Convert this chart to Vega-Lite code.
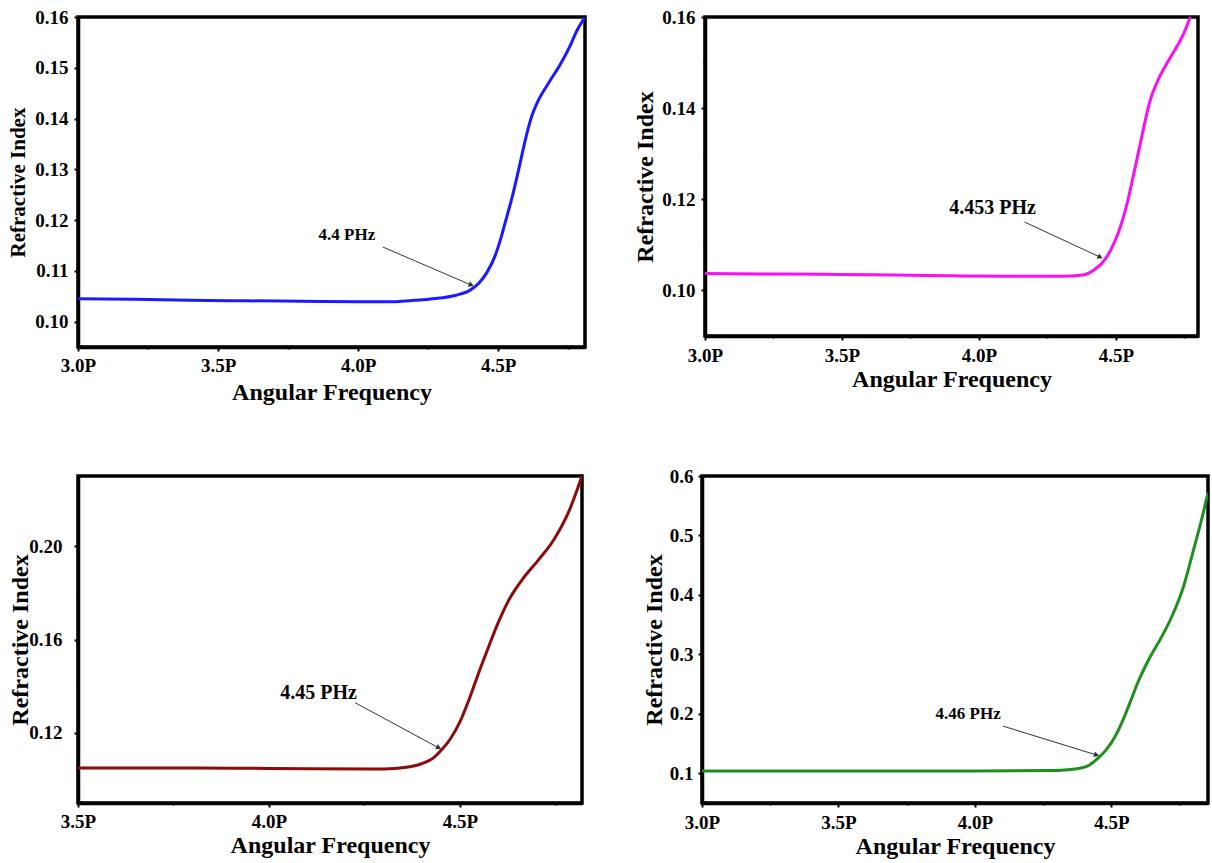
{
  "$schema": "https://vega.github.io/schema/vega-lite/v6.json",
  "background": "white",
  "padding": {"left": 5, "top": 6, "right": 0, "bottom": 0},
  "config": {
    "view": {"stroke": "black", "strokeWidth": 3.5},
    "font": "Liberation Serif",
    "axis": {
      "labelFont": "Liberation Serif", "labelFontWeight": "bold", "labelFontSize": 19, "labelColor": "black",
      "titleFont": "Liberation Serif", "titleFontWeight": "bold", "titleFontSize": 24, "titleColor": "black",
      "domainColor": "black", "domainWidth": 3.5, "tickColor": "black", "tickWidth": 2,
      "grid": false, "labelOverlap": false, "labelFlush": false
    }
  },
  "datasets": {
    "p1": [
      {"x": 3.00, "y": 0.1045}, {"x": 3.20, "y": 0.1044}, {"x": 3.40, "y": 0.1042}, {"x": 3.60, "y": 0.1041},
      {"x": 3.80, "y": 0.1040}, {"x": 4.00, "y": 0.1039}, {"x": 4.10, "y": 0.1039}, {"x": 4.20, "y": 0.1042},
      {"x": 4.30, "y": 0.1047}, {"x": 4.35, "y": 0.1052}, {"x": 4.40, "y": 0.1062}, {"x": 4.43, "y": 0.1075},
      {"x": 4.46, "y": 0.1097}, {"x": 4.49, "y": 0.1131}, {"x": 4.51, "y": 0.1165}, {"x": 4.53, "y": 0.1205},
      {"x": 4.55, "y": 0.1245}, {"x": 4.575, "y": 0.1304}, {"x": 4.60, "y": 0.1365}, {"x": 4.62, "y": 0.1405},
      {"x": 4.64, "y": 0.1432}, {"x": 4.68, "y": 0.1470}, {"x": 4.72, "y": 0.1505}, {"x": 4.755, "y": 0.1541},
      {"x": 4.78, "y": 0.1572}, {"x": 4.81, "y": 0.1600}
    ],
    "a1": [{"x": 4.088, "y": 0.1147, "x2": 4.404, "y2": 0.1072, "tx": 3.96, "ty": 0.117, "label": "4.4 PHz"}],
    "p2": [
      {"x": 3.00, "y": 0.1037}, {"x": 3.30, "y": 0.1036}, {"x": 3.50, "y": 0.1035}, {"x": 3.70, "y": 0.1034},
      {"x": 3.90, "y": 0.1032}, {"x": 4.10, "y": 0.1031}, {"x": 4.30, "y": 0.1031}, {"x": 4.38, "y": 0.1034},
      {"x": 4.42, "y": 0.1045}, {"x": 4.45, "y": 0.1060}, {"x": 4.48, "y": 0.1087}, {"x": 4.51, "y": 0.1128},
      {"x": 4.54, "y": 0.1188}, {"x": 4.567, "y": 0.1260}, {"x": 4.596, "y": 0.1341}, {"x": 4.624, "y": 0.1414},
      {"x": 4.66, "y": 0.1469}, {"x": 4.70, "y": 0.1512}, {"x": 4.745, "y": 0.1560}, {"x": 4.772, "y": 0.1600}
    ],
    "a2": [{"x": 4.167, "y": 0.1150, "x2": 4.443, "y2": 0.1073, "tx": 4.05, "ty": 0.118, "label": "4.453 PHz"}],
    "p3": [
      {"x": 3.50, "y": 0.1050}, {"x": 3.70, "y": 0.1050}, {"x": 3.90, "y": 0.1049}, {"x": 4.10, "y": 0.1047},
      {"x": 4.30, "y": 0.1046}, {"x": 4.36, "y": 0.1053}, {"x": 4.40, "y": 0.1068}, {"x": 4.43, "y": 0.1092},
      {"x": 4.45, "y": 0.1124}, {"x": 4.475, "y": 0.1174}, {"x": 4.50, "y": 0.1246}, {"x": 4.525, "y": 0.1346},
      {"x": 4.55, "y": 0.1460}, {"x": 4.575, "y": 0.1567}, {"x": 4.60, "y": 0.1670}, {"x": 4.63, "y": 0.1774},
      {"x": 4.665, "y": 0.1860}, {"x": 4.705, "y": 0.1939}, {"x": 4.745, "y": 0.2024}, {"x": 4.785, "y": 0.2146},
      {"x": 4.82, "y": 0.2300}
    ],
    "a3": [{"x": 4.226, "y": 0.1329, "x2": 4.445, "y2": 0.1136, "tx": 4.13, "ty": 0.137, "label": "4.45 PHz"}],
    "p4": [
      {"x": 3.00, "y": 0.104}, {"x": 3.50, "y": 0.104}, {"x": 4.00, "y": 0.104}, {"x": 4.27, "y": 0.1045},
      {"x": 4.34, "y": 0.106}, {"x": 4.38, "y": 0.108}, {"x": 4.42, "y": 0.114}, {"x": 4.45, "y": 0.125},
      {"x": 4.48, "y": 0.139}, {"x": 4.51, "y": 0.159}, {"x": 4.54, "y": 0.187}, {"x": 4.57, "y": 0.221},
      {"x": 4.60, "y": 0.256}, {"x": 4.64, "y": 0.294}, {"x": 4.68, "y": 0.326}, {"x": 4.72, "y": 0.362},
      {"x": 4.765, "y": 0.415}, {"x": 4.80, "y": 0.474}, {"x": 4.835, "y": 0.535}, {"x": 4.854, "y": 0.572}
    ],
    "a4": [{"x": 4.103, "y": 0.1793, "x2": 4.446, "y2": 0.1307, "tx": 3.975, "ty": 0.1994, "label": "4.46 PHz"}]
  },
  "spacing": 59,
  "vconcat": [
    {
      "hconcat": [
        {
          "width": 507, "height": 330,
          "layer": [
            {
              "data": {"name": "p1"},
              "mark": {"type": "line", "color": "#1a1aff", "strokeWidth": 3, "clip": true, "interpolate": "monotone"},
              "encoding": {
                "x": {"field": "x", "type": "quantitative", "scale": {"domain": [3.0, 4.81], "nice": false, "zero": false},
                  "axis": {"title": "Angular Frequency", "titleFontSize": 24, "values": [3.0, 3.25, 3.5, 3.75, 4.0, 4.25, 4.5, 4.75],
                    "labelExpr": "round(datum.value*4)%2==0 ? format(datum.value,'.1f')+'P' : ''", "labelOverlap": false,
                    "tickSize": {"condition": {"test": "round(datum.value*4)%2==1", "value": 2}, "value": 4},
                    "labelPadding": 5, "minExtent": 27, "maxExtent": 27, "titlePadding": 6}},
                "y": {"field": "y", "type": "quantitative", "scale": {"domain": [0.095, 0.16], "nice": false, "zero": false},
                  "axis": {"title": "Refractive Index", "titleFontSize": 21,
                    "values": [0.1, 0.105, 0.11, 0.115, 0.12, 0.125, 0.13, 0.135, 0.14, 0.145, 0.15, 0.155, 0.16],
                    "labelExpr": "round(datum.value*200)%2==0 ? format(datum.value,'.2f') : ''", "labelOverlap": false,
                    "tickSize": {"condition": {"test": "round(datum.value*200)%2==1", "value": 2}, "value": 4},
                    "labelPadding": 6, "minExtent": 47, "maxExtent": 47, "titlePadding": 3}}
              }
            },
            {
              "data": {"name": "a1"},
              "mark": {"type": "rule", "color": "#333333", "strokeWidth": 1},
              "encoding": {"x": {"field": "x", "type": "quantitative"}, "y": {"field": "y", "type": "quantitative"},
                "x2": {"field": "x2"}, "y2": {"field": "y2"}}
            },
            {
              "data": {"name": "a1"},
              "mark": {"type": "point", "shape": "triangle-right", "filled": true, "color": "#333333", "opacity": 1, "size": 35, "angle": 23.5},
              "encoding": {"x": {"field": "x2", "type": "quantitative"}, "y": {"field": "y2", "type": "quantitative"}}
            },
            {
              "data": {"name": "a1"},
              "mark": {"type": "text", "font": "Liberation Serif", "fontWeight": "bold", "fontSize": 17, "color": "black"},
              "encoding": {"x": {"field": "tx", "type": "quantitative"}, "y": {"field": "ty", "type": "quantitative"},
                "text": {"field": "label"}}
            }
          ]
        },
        {
          "width": 493, "height": 319,
          "layer": [
            {
              "data": {"name": "p2"},
              "mark": {"type": "line", "color": "#f70ff7", "strokeWidth": 3, "clip": true, "interpolate": "monotone"},
              "encoding": {
                "x": {"field": "x", "type": "quantitative", "scale": {"domain": [3.0, 4.8], "nice": false, "zero": false},
                  "axis": {"title": "Angular Frequency", "titleFontSize": 24, "values": [3.0, 3.25, 3.5, 3.75, 4.0, 4.25, 4.5, 4.75],
                    "labelExpr": "round(datum.value*4)%2==0 ? format(datum.value,'.1f')+'P' : ''", "labelOverlap": false,
                    "tickSize": {"condition": {"test": "round(datum.value*4)%2==1", "value": 2}, "value": 4},
                    "labelPadding": 6, "minExtent": 27, "maxExtent": 27, "titlePadding": 4}},
                "y": {"field": "y", "type": "quantitative", "scale": {"domain": [0.09, 0.16], "nice": false, "zero": false},
                  "axis": {"title": "Refractive Index", "titleFontSize": 24,
                    "values": [0.1, 0.11, 0.12, 0.13, 0.14, 0.15, 0.16],
                    "labelExpr": "round(datum.value*100)%2==0 ? format(datum.value,'.2f') : ''", "labelOverlap": false,
                    "tickSize": {"condition": {"test": "round(datum.value*100)%2==1", "value": 2}, "value": 4},
                    "labelPadding": 6, "minExtent": 44, "maxExtent": 44, "titlePadding": 4}}
              }
            },
            {
              "data": {"name": "a2"},
              "mark": {"type": "rule", "color": "#333333", "strokeWidth": 1},
              "encoding": {"x": {"field": "x", "type": "quantitative"}, "y": {"field": "y", "type": "quantitative"},
                "x2": {"field": "x2"}, "y2": {"field": "y2"}}
            },
            {
              "data": {"name": "a2"},
              "mark": {"type": "point", "shape": "triangle-right", "filled": true, "color": "#333333", "opacity": 1, "size": 35, "angle": 25},
              "encoding": {"x": {"field": "x2", "type": "quantitative"}, "y": {"field": "y2", "type": "quantitative"}}
            },
            {
              "data": {"name": "a2"},
              "mark": {"type": "text", "font": "Liberation Serif", "fontWeight": "bold", "fontSize": 20, "color": "black"},
              "encoding": {"x": {"field": "tx", "type": "quantitative"}, "y": {"field": "ty", "type": "quantitative"},
                "text": {"field": "label"}}
            }
          ]
        }
      ],
      "spacing": 120,
      "bounds": "flush"
    },
    {
      "hconcat": [
        {
          "width": 504, "height": 327,
          "layer": [
            {
              "data": {"name": "p3"},
              "mark": {"type": "line", "color": "#8b0a0a", "strokeWidth": 3, "clip": true, "interpolate": "monotone"},
              "encoding": {
                "x": {"field": "x", "type": "quantitative", "scale": {"domain": [3.5, 4.82], "nice": false, "zero": false},
                  "axis": {"title": "Angular Frequency", "titleFontSize": 24, "values": [3.5, 3.75, 4.0, 4.25, 4.5, 4.75],
                    "labelExpr": "round(datum.value*4)%2==0 ? format(datum.value,'.1f')+'P' : ''", "labelOverlap": false,
                    "tickSize": {"condition": {"test": "round(datum.value*4)%2==1", "value": 2}, "value": 4},
                    "labelPadding": 5, "minExtent": 27, "maxExtent": 27, "titlePadding": 3}},
                "y": {"field": "y", "type": "quantitative", "scale": {"domain": [0.09, 0.23], "nice": false, "zero": false},
                  "axis": {"title": "Refractive Index", "titleFontSize": 24,
                    "values": [0.12, 0.14, 0.16, 0.18, 0.2],
                    "labelExpr": "round(datum.value*100)%4==0 ? format(datum.value,'.2f') : ''", "labelOverlap": false,
                    "tickSize": {"condition": {"test": "round(datum.value*100)%4!=0", "value": 2}, "value": 4},
                    "labelPadding": 12, "minExtent": 42, "maxExtent": 42, "titlePadding": 4}}
              }
            },
            {
              "data": {"name": "a3"},
              "mark": {"type": "rule", "color": "#333333", "strokeWidth": 1},
              "encoding": {"x": {"field": "x", "type": "quantitative"}, "y": {"field": "y", "type": "quantitative"},
                "x2": {"field": "x2"}, "y2": {"field": "y2"}}
            },
            {
              "data": {"name": "a3"},
              "mark": {"type": "point", "shape": "triangle-right", "filled": true, "color": "#333333", "opacity": 1, "size": 35, "angle": 28},
              "encoding": {"x": {"field": "x2", "type": "quantitative"}, "y": {"field": "y2", "type": "quantitative"}}
            },
            {
              "data": {"name": "a3"},
              "mark": {"type": "text", "font": "Liberation Serif", "fontWeight": "bold", "fontSize": 20, "color": "black"},
              "encoding": {"x": {"field": "tx", "type": "quantitative"}, "y": {"field": "ty", "type": "quantitative"},
                "text": {"field": "label"}}
            }
          ]
        },
        {
          "width": 506, "height": 327,
          "layer": [
            {
              "data": {"name": "p4"},
              "mark": {"type": "line", "color": "#1f8f1f", "strokeWidth": 3, "clip": true, "interpolate": "monotone"},
              "encoding": {
                "x": {"field": "x", "type": "quantitative", "scale": {"domain": [3.0, 4.854], "nice": false, "zero": false},
                  "axis": {"title": "Angular Frequency", "titleFontSize": 24, "values": [3.0, 3.25, 3.5, 3.75, 4.0, 4.25, 4.5, 4.75],
                    "labelExpr": "round(datum.value*4)%2==0 ? format(datum.value,'.1f')+'P' : ''", "labelOverlap": false,
                    "tickSize": {"condition": {"test": "round(datum.value*4)%2==1", "value": 2}, "value": 4},
                    "labelPadding": 6, "minExtent": 27, "maxExtent": 27, "titlePadding": 4}},
                "y": {"field": "y", "type": "quantitative", "scale": {"domain": [0.05, 0.6], "nice": false, "zero": false},
                  "axis": {"title": "Refractive Index", "titleFontSize": 24,
                    "values": [0.1, 0.15, 0.2, 0.25, 0.3, 0.35, 0.4, 0.45, 0.5, 0.55, 0.6],
                    "labelExpr": "round(datum.value*20)%2==0 ? format(datum.value,'.1f') : ''", "labelOverlap": false,
                    "tickSize": {"condition": {"test": "round(datum.value*20)%2==1", "value": 2}, "value": 4},
                    "labelPadding": 5, "minExtent": 32, "maxExtent": 32, "titlePadding": 3.5}}
              }
            },
            {
              "data": {"name": "a4"},
              "mark": {"type": "rule", "color": "#333333", "strokeWidth": 1},
              "encoding": {"x": {"field": "x", "type": "quantitative"}, "y": {"field": "y", "type": "quantitative"},
                "x2": {"field": "x2"}, "y2": {"field": "y2"}}
            },
            {
              "data": {"name": "a4"},
              "mark": {"type": "point", "shape": "triangle-right", "filled": true, "color": "#333333", "opacity": 1, "size": 35, "angle": 17},
              "encoding": {"x": {"field": "x2", "type": "quantitative"}, "y": {"field": "y2", "type": "quantitative"}}
            },
            {
              "data": {"name": "a4"},
              "mark": {"type": "text", "font": "Liberation Serif", "fontWeight": "bold", "fontSize": 17, "color": "black"},
              "encoding": {"x": {"field": "tx", "type": "quantitative"}, "y": {"field": "ty", "type": "quantitative"},
                "text": {"field": "label"}}
            }
          ]
        }
      ],
      "spacing": 120,
      "bounds": "flush"
    }
  ]
}
